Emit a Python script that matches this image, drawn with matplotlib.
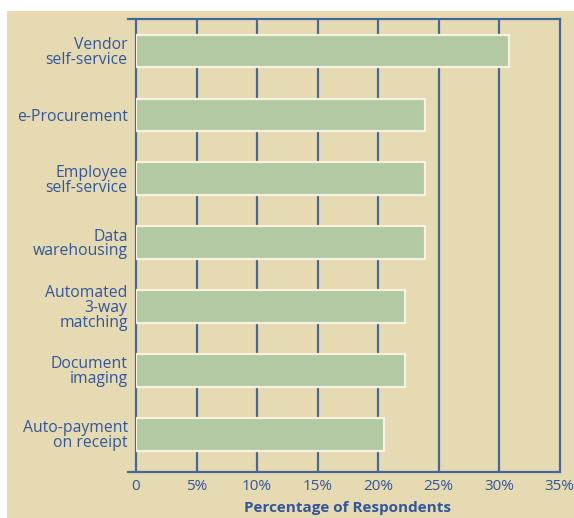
import matplotlib
matplotlib.use("Agg")
import matplotlib.pyplot as plt
from matplotlib.patches import Rectangle

categories = [
    "Vendor\nself-service",
    "e-Procurement",
    "Employee\nself-service",
    "Data\nwarehousing",
    "Automated\n3-way\nmatching",
    "Document\nimaging",
    "Auto-payment\non receipt",
]
values = [30.8, 23.9, 23.9, 23.9, 22.2, 22.2, 20.5]
xticks = [0, 5, 10, 15, 20, 25, 30, 35]
xtick_labels = ["0", "5%", "10%", "15%", "20%", "25%", "30%", "35%"]

BG = "#e6dab3"
BAR = "#b3c9a3"
LINE = "#46679a"
TEXT = "#33569a"

plt.rcParams["font.family"] = ["Open Sans", "DejaVu Sans"]

W, H = 574, 518
fig = plt.figure(figsize=(W / 100, H / 100), dpi=100, facecolor="white")
fig.patches.append(Rectangle((7 / W, 0), 1 - 7 / W, (H - 11) / H,
                             transform=fig.transFigure, facecolor=BG,
                             edgecolor="none", zorder=-5))

ax_l, ax_r, ax_t, ax_b = 136, 559.5, 19, 472
ax = fig.add_axes([ax_l / W, (H - ax_b) / H, (ax_r - ax_l) / W, (ax_b - ax_t) / H])
ax.set_facecolor(BG)

y = list(range(len(categories)))
ax.barh(y, values, height=0.51, color=BAR, edgecolor="#f7f2e0",
        linewidth=1.6, zorder=3)

ax.set_xlim(0, 35)
ax.set_ylim(6.59, -0.5)

for x in xticks[1:-1]:
    ax.axvline(x, color=LINE, linewidth=1.6, zorder=1)

for side in ["top", "bottom"]:
    ax.spines[side].set_visible(False)
for side in ["left", "right"]:
    ax.spines[side].set_color(LINE)
    ax.spines[side].set_linewidth(1.6)

ext = -8 / (ax_r - ax_l)
for yy in (0, 1):
    ax.plot([ext, 1], [yy, yy], transform=ax.transAxes, color=LINE,
            linewidth=1.6, clip_on=False, zorder=4, solid_capstyle="projecting")

ax.set_xticks(xticks)
ax.set_xticklabels(xtick_labels)
ax.set_yticks(y)
ax.set_yticklabels(categories, linespacing=0.9)
ax.tick_params(axis="both", length=0, colors=TEXT, labelsize=11)
ax.tick_params(axis="x", pad=5)
ax.tick_params(axis="y", labelsize=11.3, pad=6)

ax.set_xlabel("Percentage of Respondents", color=TEXT, fontsize=11,
              fontweight="bold", labelpad=5)

fig.savefig("out.png", dpi=100, facecolor="white")
